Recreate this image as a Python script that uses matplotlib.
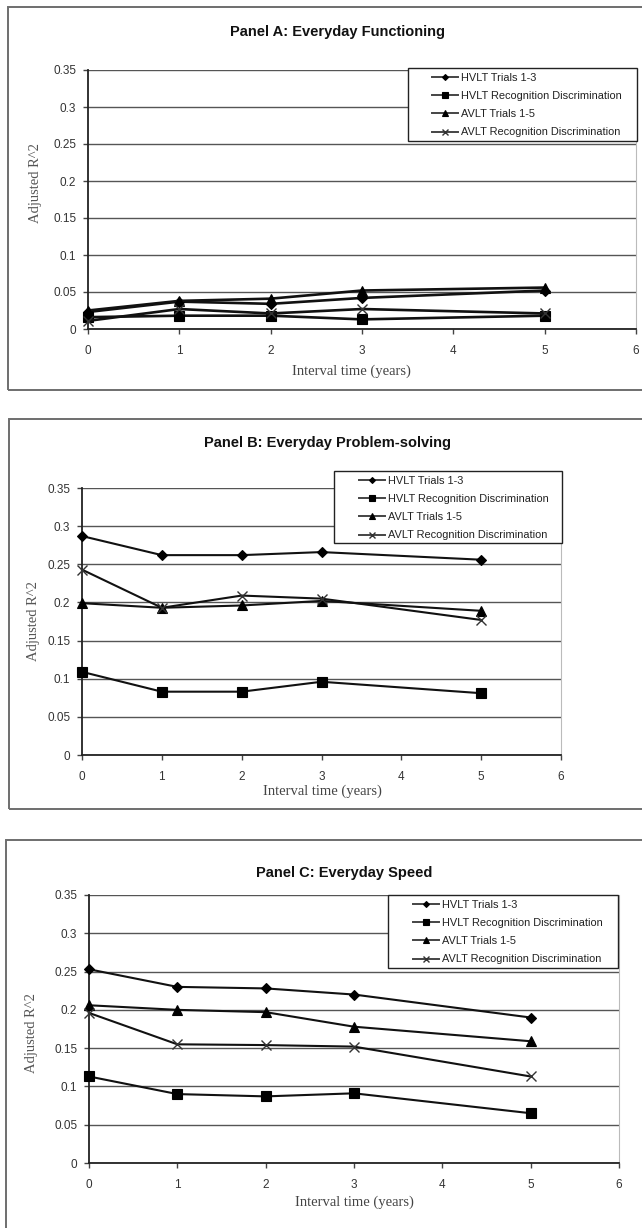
import matplotlib
matplotlib.use("Agg")
import matplotlib.pyplot as plt
from matplotlib.patches import Rectangle
from matplotlib.ticker import FuncFormatter, MultipleLocator

# ---------------- data ----------------
years = [0, 1, 2, 3, 5]
series_names = ["HVLT Trials 1-3", "HVLT Recognition Discrimination",
                "AVLT Trials 1-5", "AVLT Recognition Discrimination"]

panel_titles = ["Panel A: Everyday Functioning",
                "Panel B: Everyday Problem-solving",
                "Panel C: Everyday Speed"]

hvlt13_A = [0.023, 0.037, 0.034, 0.042, 0.052]
hvltrd_A = [0.016, 0.018, 0.018, 0.013, 0.018]
avlt15_A = [0.025, 0.038, 0.041, 0.052, 0.056]
avltrd_A = [0.011, 0.027, 0.021, 0.027, 0.021]

hvlt13_B = [0.287, 0.262, 0.262, 0.266, 0.256]
hvltrd_B = [0.109, 0.083, 0.083, 0.096, 0.081]
avlt15_B = [0.199, 0.193, 0.196, 0.202, 0.189]
avltrd_B = [0.243, 0.193, 0.209, 0.205, 0.177]

hvlt13_C = [0.253, 0.230, 0.228, 0.220, 0.190]
hvltrd_C = [0.113, 0.090, 0.087, 0.091, 0.065]
avlt15_C = [0.206, 0.200, 0.197, 0.178, 0.159]
avltrd_C = [0.196, 0.155, 0.154, 0.152, 0.113]

x_ticks = [0, 1, 2, 3, 4, 5, 6]
y_max = 0.35
y_step = 0.05
x_label = "Interval time (years)"
y_label = "Adjusted R^2"

# ---------------- layout (pixels) ----------------
W, H = 642, 1228
fig = plt.figure(figsize=(W / 100, H / 100), dpi=100)

SANS = ["Liberation Sans", "Arial", "DejaVu Sans"]
SERIF = ["Liberation Serif", "Times New Roman", "DejaVu Serif"]

def fx(px):
    return px / W

def fy(py):
    return 1 - py / H

markers = ["D", "s", "^", "x"]
msizes = [5.5, 7.5, 7.5, 7.5]

panels = [
    dict(data=[hvlt13_A, hvltrd_A, avlt15_A, avltrd_A], lw=1.9,
         ax=(88, 636, 70, 329), frame=(8, 7, 660, 390),
         title=(338, 32), ylab=(36, 183), xlab=(351, 371),
         leg_box=(408, 68, 637, 141), leg_anchor=(432, 105)),
    dict(data=[hvlt13_B, hvltrd_B, avlt15_B, avltrd_B], lw=1.5,
         ax=(82, 561, 488, 755), frame=(9, 419, 660, 809),
         title=(327, 443), ylab=(34, 621), xlab=(322, 791),
         leg_box=(334, 471, 562, 543), leg_anchor=(359, 508)),
    dict(data=[hvlt13_C, hvltrd_C, avlt15_C, avltrd_C], lw=1.5,
         ax=(89, 619, 895, 1163), frame=(6, 840, 660, 1240),
         title=(344, 873), ylab=(32, 1033), xlab=(354, 1202),
         leg_box=(388, 895, 618, 968), leg_anchor=(413, 932)),
]

for p, title in zip(panels, panel_titles):
    # panel frame (cut on right side like the reference)
    fl, ft, fr, fb = p["frame"]
    fig.patches.append(Rectangle((fx(fl), fy(fb)), fx(fr - fl), (fb - ft) / H,
                                 transform=fig.transFigure, fill=False,
                                 edgecolor="#6e6e6e", linewidth=1.4, zorder=0))

    l, r, t, b = p["ax"]
    ax = fig.add_axes([fx(l), fy(b), fx(r - l), (b - t) / H])
    ax.set_xlim(0, 6)
    ax.set_ylim(0, y_max)
    ax.set_xticks(x_ticks)
    ax.yaxis.set_major_locator(MultipleLocator(y_step))
    ax.yaxis.set_major_formatter(FuncFormatter(lambda v, pos: f"{round(v, 2):g}"))
    ax.grid(axis="y", color="#555555", linewidth=1.0, zorder=0)
    ax.set_axisbelow(True)
    for s in ["top", "right"]:
        ax.spines[s].set_color("#bbbbbb")
        ax.spines[s].set_linewidth(0.8)
    ax.spines["top"].set_visible(False)
    for s in ["left", "bottom"]:
        ax.spines[s].set_color("#222222")
        ax.spines[s].set_linewidth(1.3)
    ax.tick_params(axis="both", direction="out", length=3.5, width=1,
                   color="#444444", labelcolor="#333333", labelsize=8.5)
    ax.tick_params(axis="x", pad=8)
    ax.tick_params(axis="y", pad=5)
    for lab in ax.get_xticklabels() + ax.get_yticklabels():
        lab.set_family(SANS)

    handles = []
    for vals, name, m, ms in zip(p["data"], series_names, markers, msizes):
        ln, = ax.plot(years, vals, color="#111111", linewidth=p["lw"],
                      marker=m, markersize=ms, markeredgewidth=1.0 if m == "x" else 0.8,
                      markerfacecolor="#000000",
                      markeredgecolor="#333333" if m == "x" else "#000000",
                      label=name, zorder=3, clip_on=False)
        handles.append(ln)

    # title and axis labels
    fig.text(fx(p["title"][0]), fy(p["title"][1]), title, ha="center", va="center",
             fontsize=10.5, fontweight="bold", family=SANS, color="#111111")
    ax.set_ylabel(y_label, family=SERIF, fontsize=10.5, color="#555555",
                  va="center", ha="center")
    ax.yaxis.set_label_coords((p["ylab"][0] - l) / (r - l), (b - p["ylab"][1]) / (b - t))
    ax.set_xlabel(x_label, family=SERIF, fontsize=10.5, color="#444444",
                  va="center", ha="center")
    ax.xaxis.set_label_coords((p["xlab"][0] - l) / (r - l), (b - p["xlab"][1]) / (b - t))

    # legend box
    bl, bt, br, bb = p["leg_box"]
    ax.add_patch(Rectangle(((bl - l) / (r - l), (b - bb) / (b - t)),
                           (br - bl) / (r - l), (bb - bt) / (b - t),
                           transform=ax.transAxes, facecolor="white",
                           edgecolor="#222222", linewidth=1.0,
                           clip_on=False, zorder=4.5))
    ax_x, ax_y = p["leg_anchor"]
    leg = ax.legend(handles=handles, loc="center left",
                    bbox_to_anchor=((ax_x - l) / (r - l), (b - ax_y) / (b - t)),
                    frameon=False, borderpad=0, borderaxespad=0,
                    prop={"family": SANS, "size": 7.9},
                    handlelength=2.4, handletextpad=0.2, labelspacing=0.75,
                    markerscale=0.55)
    leg.set_zorder(5)
    for line in leg.get_lines():
        line.set_linewidth(1.4)
        line.set_color("#444444")
    for txt in leg.get_texts():
        txt.set_color("#222222")

fig.savefig("out.png", dpi=100)
